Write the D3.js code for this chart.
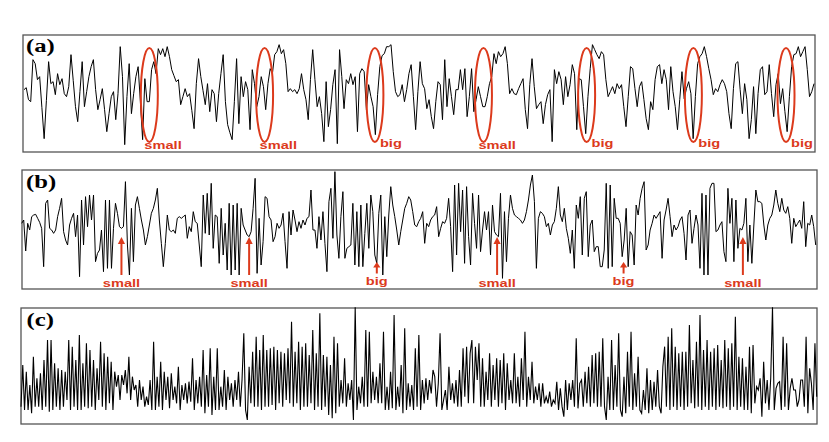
<!DOCTYPE html>
<html><head><meta charset="utf-8">
<script src="https://cdn.jsdelivr.net/npm/d3@7"></script>
<style>html,body{margin:0;padding:0;background:#fff;} svg{display:block;}</style>
</head><body>
<svg id="chart" width="829" height="442"></svg>
<script>
// ---- data ----
const seriesA = [7,9,-3,-5,37,33,17,20,-11,-42,-4,35,13,15,2,23,12,18,3,0,10,42,16,-10,-25,5,35,-10,5,20,30,37,7,-13,-3,8,-13,-35,-17,0,5,-23,3,50,20,-48,0,33,-17,3,20,30,-5,-43,18,-5,-5,27,35,23,48,42,48,40,50,40,27,21,15,17,-8,0,8,0,3,-14,-32,13,38,20,6,-8,13,-15,7,3,-25,3,23,42,-5,-28,-36,-43,-5,38,-27,20,0,15,7,-33,27,13,-10,0,20,10,-13,13,28,23,42,45,52,43,47,33,5,8,
5,7,3,8,23,7,-3,-23,17,47,17,-10,0,-17,-45,15,-30,-13,12,27,-47,47,20,-12,17,13,23,12,20,-35,23,28,25,-13,12,0,-10,-38,2,30,41,43,50,50,52,25,5,0,2,12,-5,7,23,32,0,-33,5,35,13,8,-12,-3,-20,-32,-5,15,12,-23,37,-10,18,0,-18,7,7,27,7,28,-20,0,28,-15,-3,10,0,-10,-10,0,13,20,43,33,45,40,43,50,33,3,8,3,2,8,13,18,-13,-32,12,38,10,-12,-8,-5,-27,-8,2,7,
-45,27,13,25,17,-8,20,0,12,32,23,-33,18,17,-10,-37,0,28,52,47,42,38,45,42,17,0,5,10,3,13,8,12,-10,-30,0,30,28,8,-10,10,15,-3,-22,-33,-5,-13,17,30,32,13,27,17,-13,30,5,-10,-33,-3,25,-2,8,15,3,-42,0,33,40,43,50,40,28,17,2,8,5,12,17,13,5,-17,-32,8,33,35,7,-17,13,-3,-42,-23,10,-37,3,27,30,2,5,32,3,-20,12,23,-7,8,-15,-35,0,30,42,43,50,40,45,50,27,0,5,13];

const seriesB = [25,35,-58,25,5,45,50,52,40,28,10,-105,85,95,10,5,-5,5,45,70,100,0,-25,-40,20,40,55,-15,50,-135,95,-40,105,15,110,35,110,-90,-65,-55,5,-120,95,-110,95,-110,10,85,55,15,10,15,150,-40,-130,70,-90,80,105,70,35,5,-40,-15,20,55,70,95,130,35,-35,-105,-35,50,5,0,5,-5,40,45,40,45,50,-20,15,0,60,30,25,-40,-105,110,-5,115,-10,145,-50,50,45,-95,70,-70,25,-115,85,-130,80,-115,85,-130,70,20,5,-10,-15,0,70,160,-125,40,-100,-30,105,100,45,35,-30,-15,25,10,20,55,-30,-110,60,
-10,65,35,0,30,10,35,20,40,45,125,5,5,-50,45,-25,60,-35,-120,90,130,-20,180,-10,-80,45,120,-80,-50,-45,-40,85,-100,60,-105,80,-105,-5,85,-50,110,60,-70,-95,55,110,-130,45,-75,50,135,80,45,5,-40,0,35,70,85,105,95,60,20,15,30,40,60,-35,25,15,35,45,50,75,-15,10,30,25,40,100,15,-120,140,-70,145,0,125,-95,135,-15,-100,115,25,-50,110,-60,5,60,5,60,-70,80,0,-10,-15,115,-140,60,-90,40,110,70,50,45,40,35,25,35,60,95,140,170,90,-110,40,60,55,45,15,25,
-10,20,30,70,135,50,30,70,10,-20,-65,5,-110,80,40,105,-70,100,120,-75,20,35,-60,-45,-45,-105,-105,-55,145,-110,140,-105,100,40,40,25,-75,-25,70,-105,0,-10,-100,80,50,100,130,150,-55,-40,5,25,50,40,50,60,-80,35,65,100,45,-15,20,5,15,35,45,-5,-85,50,65,-35,10,50,20,-110,115,-130,110,-130,130,145,145,0,5,20,30,-60,-90,130,25,100,-90,95,-50,10,5,25,100,-90,20,-95,20,125,90,90,85,20,-25,20,40,50,80,125,85,60,100,65,55,75,40,-35,40,15,25,35,10,90,-45,25,20,50,15,-40];

const seriesC = [30,155,20,135,20,95,10,180,30,115,30,130,20,170,30,230,15,230,20,160,30,145,20,140,30,135,50,230,20,210,30,170,20,245,20,160,30,220,25,200,30,170,20,145,50,225,30,190,20,180,40,165,20,135,90,125,50,125,95,140,70,180,50,120,80,95,30,110,50,90,30,60,35,110,20,225,20,120,30,165,20,135,50,120,25,130,50,90,40,150,20,95,50,100,40,105,45,175,20,110,40,120,30,200,10,125,30,205,5,120,20,205,20,90,30,140,20,120,50,100,30,110,50,135,30,110,250,20,-10,150,40,195,30,240,30,200,20,245,30,200,30,205,35,210,20,200,40,195,30,190,50,205,
40,285,30,195,40,225,20,210,30,220,30,185,40,260,20,190,30,310,20,185,30,180,5,155,-5,240,10,220,30,110,40,175,30,100,50,110,-10,328,20,90,40,120,30,260,30,255,40,135,50,120,40,160,40,255,20,90,20,135,25,305,20,90,30,155,10,265,20,100,30,95,20,205,30,245,20,110,40,115,50,110,70,140,120,30,100,250,20,50,80,20,150,50,100,40,110,30,140,30,205,60,210,40,190,230,40,210,110,220,30,175,30,135,50,190,30,155,50,175,30,170,40,190,20,160,50,110,40,190,40,120,30,175,50,255,30,120,50,165,40,90,50,100,30,100,40,60,40,75,30,50,
40,105,20,85,30,0,110,20,100,50,110,30,235,25,100,110,30,135,40,150,30,185,40,190,30,195,30,235,30,-10,120,20,230,20,155,30,250,20,0,120,10,195,30,255,20,130,30,180,20,10,80,20,145,10,110,20,105,30,140,30,10,150,210,30,240,20,265,30,210,20,190,30,195,20,195,30,275,40,170,25,225,30,305,20,200,30,230,20,195,30,205,20,215,30,170,25,230,30,205,20,220,30,300,20,180,30,175,20,150,20,210,10,215,40,90,80,115,0,165,40,110,20,115,328,20,85,100,105,20,240,30,220,20,85,115,80,80,30,50,110,110,30,240,10,145,100,20,220,60];

const panelLabels = ["(a)", "(b)", "(c)"];
// annotations (sample index along the series + label)
const ellipseIndexA = [56, 107.5, 156.8, 205.3, 251.4, 299.1, 340.5];
const ellipseLabelA = ["small", "small", "big", "small", "big", "big", "big"];
const arrowIndexB = [50, 114, 178, 238.3, 301.7, 361.5];
const arrowLabelB = ["small", "small", "big", "small", "big", "small"];

// ---- layout ----
const RED = "#dc3a1c";
const svg = d3.select("#chart");

const panels = [
  {label: panelLabels[0], data: seriesA, box: [23, 35, 815, 152], xr: [24, 814], dom: [-50, 55], yr: [146.67, 41.67], lw: 1.0, lab: [26, 51.7]},
  {label: panelLabels[1], data: seriesB, box: [22, 170, 817, 289], xr: [21.7, 815.7], dom: [-150, 180], yr: [281.67, 171.67], lw: 1.0, lab: [26, 188]},
  {label: panelLabels[2], data: seriesC, box: [21, 308, 817, 424], xr: [21, 816.7], dom: [0, 330], yr: [416.67, 306.67], lw: 1.1, lab: [26.5, 326]}
];

panels.forEach(p => {
  p.x = d3.scaleLinear().domain([0, p.data.length - 1]).range(p.xr);
  p.y = d3.scaleLinear().domain(p.dom).range(p.yr);
  const g = svg.append("g");
  g.append("rect")
    .attr("x", p.box[0]).attr("y", p.box[1])
    .attr("width", p.box[2] - p.box[0]).attr("height", p.box[3] - p.box[1])
    .attr("fill", "none").attr("stroke", "#555").attr("stroke-width", 1.3);
  const line = d3.line().x((d, i) => p.x(i)).y(d => p.y(d));
  g.append("path").datum(p.data)
    .attr("d", line)
    .attr("fill", "none").attr("stroke", "#000")
    .attr("stroke-width", p.lw).attr("stroke-linejoin", "miter");
  g.append("text")
    .attr("transform", `translate(${p.lab[0]},${p.lab[1]}) scale(1.3,1)`)
    .attr("font-family", "'Liberation Serif', 'Times New Roman', serif")
    .attr("font-weight", "bold").attr("font-size", 19)
    .attr("fill", "#000")
    .text(p.label);
});

// panel (a) ellipses
const pa = panels[0];
const ga = svg.append("g");
ellipseIndexA.forEach((idx, k) => {
  const cx = pa.x(idx);
  ga.append("ellipse")
    .attr("cx", cx).attr("cy", 95).attr("rx", 8.5).attr("ry", 47)
    .attr("fill", "none").attr("stroke", RED).attr("stroke-width", 2);
  const lab = ellipseLabelA[k];
  const tx = lab === "small" ? cx - 5 : cx + 5;
  const ty = lab === "small" ? 149.3 : 147;
  ga.append("text")
    .attr("transform", `translate(${tx},${ty}) scale(1.33,1)`)
    .attr("font-family", "'Liberation Sans', Arial, sans-serif")
    .attr("font-weight", "bold").attr("font-size", 11)
    .attr("fill", RED)
    .text(lab);
});

// panel (b) arrows
const pb = panels[1];
const gb = svg.append("g");
arrowIndexB.forEach((idx, k) => {
  const ax = pb.x(idx);
  const lab = arrowLabelB[k];
  const tip = lab === "small" ? 237 : 262;
  const base = lab === "small" ? 244 : 267.5;
  const bottom = lab === "small" ? 275 : 273.5;
  gb.append("line")
    .attr("x1", ax).attr("x2", ax).attr("y1", base - 1).attr("y2", bottom)
    .attr("stroke", RED).attr("stroke-width", 2);
  gb.append("path")
    .attr("d", `M${ax},${tip} L${ax - 3.6},${base} L${ax + 3.6},${base} Z`)
    .attr("fill", RED);
  gb.append("text")
    .attr("transform", `translate(${ax},${lab === "small" ? 286.5 : 285}) scale(1.33,1)`)
    .attr("text-anchor", "middle")
    .attr("font-family", "'Liberation Sans', Arial, sans-serif")
    .attr("font-weight", "bold").attr("font-size", 11)
    .attr("fill", RED)
    .text(lab);
});
</script>
</body></html>
